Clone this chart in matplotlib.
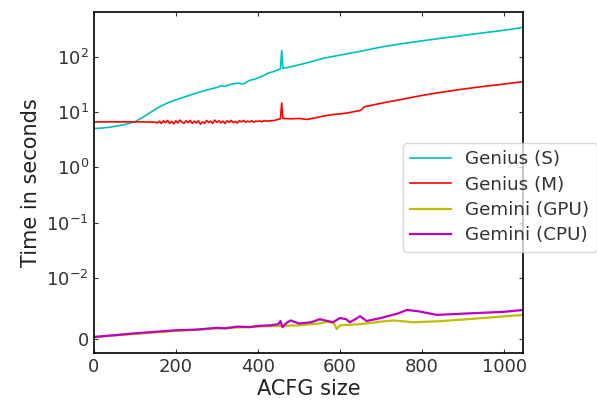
import numpy as np
import matplotlib
matplotlib.use('Agg')
import matplotlib.pyplot as plt
from matplotlib.ticker import NullLocator

# Tiempos medidos por tamano de ACFG
x_gs = [0, 20, 40, 60, 80, 100, 120, 140, 160, 180, 200, 230, 260, 290, 300, 310,
        320, 335, 350, 365, 380, 395, 410, 425, 440, 455, 458, 461, 480, 520, 560,
        600, 650, 700, 750, 800, 850, 900, 950, 1000, 1046]
y_gs = [5.0, 5.1, 5.3, 5.6, 6.0, 6.6, 8.0, 10.0, 12.3, 14.5, 16.5, 19.5, 23.0, 26.5,
        27.5, 29.5, 29.0, 31.5, 33.0, 32.0, 37.0, 39.5, 44.0, 50.0, 54.0, 60.0, 128.0,
        61.0, 65.0, 77.0, 93.0, 106.0, 124.0, 148.0, 170.0, 192.0, 215.0, 240.0,
        268.0, 298.0, 335.0]

x_gm = [0, 40, 80, 120, 150, 155, 160, 165, 170, 175, 180, 185, 190, 195, 200, 205,
        210, 215, 220, 225, 230, 235, 240, 245, 250, 255, 260, 265, 270, 275, 280,
        285, 290, 295, 300, 305, 310, 315, 320, 325, 330, 335, 340, 345, 350, 355,
        360, 365, 370, 375, 380, 385, 390, 395, 400, 405, 410, 415, 420, 440, 455,
        458, 461, 480, 500, 520, 540, 560, 580, 600, 620, 640, 650, 660, 680, 700,
        750, 800, 850, 900, 950, 1000, 1046]
y_gm = [6.6, 6.6, 6.6, 6.6, 6.5, 6.3, 6.8, 6.2, 6.9, 6.4, 7.0, 6.2, 6.7, 6.1, 6.9,
        6.3, 7.1, 6.5, 6.2, 6.9, 6.4, 7.0, 6.2, 6.8, 6.3, 6.9, 6.0, 6.6, 6.2, 7.0,
        6.4, 6.8, 6.2, 7.1, 6.5, 6.9, 6.3, 6.8, 6.2, 6.9, 6.5, 7.0, 6.4, 6.7, 6.3,
        6.9, 6.6, 7.0, 6.5, 6.8, 6.6, 6.9, 6.5, 6.8, 6.7, 6.9, 6.6, 7.0, 6.8, 7.0,
        7.5, 14.5, 7.6, 7.5, 7.6, 7.3, 7.8, 8.4, 8.9, 9.2, 9.6, 10.3, 10.6, 12.4,
        13.3, 14.3, 16.8, 19.8, 22.8, 25.8, 28.8, 31.8, 35.0]

x_gpu = [0, 100, 200, 300, 400, 450, 500, 550, 570, 585, 592, 600, 650, 700, 730,
         780, 850, 950, 1046]
y_gpu = [0.0004, 0.0009, 0.0014, 0.0018, 0.0021, 0.0022, 0.0023, 0.0026, 0.0029,
         0.0027, 0.0017, 0.0023, 0.0025, 0.0029, 0.0031, 0.0028, 0.0030, 0.0035,
         0.0040]

x_cpu = [0, 100, 200, 250, 300, 320, 350, 380, 400, 430, 450, 455, 460, 470, 480,
         500, 530, 551, 570, 583, 600, 615, 624, 640, 649, 665, 700, 740, 763, 790,
         836, 900, 1000, 1046]
y_cpu = [0.0004, 0.0010, 0.0015, 0.0016, 0.0019, 0.0018, 0.0021, 0.0020, 0.0022,
         0.0023, 0.0025, 0.0030, 0.0020, 0.0027, 0.0031, 0.0026, 0.0028, 0.0033,
         0.0030, 0.0028, 0.0035, 0.0033, 0.0028, 0.0034, 0.0038, 0.0030, 0.0035,
         0.0042, 0.0048, 0.0046, 0.0040, 0.0042, 0.0045, 0.0048]

series = [
    (x_gs, y_gs, 'c', 'Genius (S)', 1.2),
    (x_gm, y_gm, 'r', 'Genius (M)', 1.2),
    (x_gpu, y_gpu, 'y', 'Gemini (GPU)', 1.6),
    (x_cpu, y_cpu, 'm', 'Gemini (CPU)', 1.6),
]

ytick_vals = [0, 1e-2, 1e-1, 1, 10, 100]
ytick_labels = ['0', '$10^{-2}$', '$10^{-1}$', '$10^{0}$', '$10^{1}$', '$10^{2}$']
xtick_vals = [0, 200, 400, 600, 800, 1000]

fig = plt.figure(figsize=(5.97, 4.03), dpi=100)
ax = fig.add_axes([0.157, 0.124, 0.719, 0.846])

for xs, ys, col, lab, lw in series:
    ax.plot(xs, ys, color=col, label=lab, linewidth=lw)

ax.set_yscale('symlog', linthresh=0.01, linscale=1)
ax.set_ylim(-0.0022, 634)
ax.set_xlim(0, 1046)
ax.set_yticks(ytick_vals)
ax.set_yticklabels(ytick_labels)
ax.set_xticks(xtick_vals)
ax.yaxis.set_minor_locator(NullLocator())
ax.tick_params(direction='in', length=3, labelsize=13, colors='#333333',
               top=True, right=True)
for s in ax.spines.values():
    s.set_linewidth(1.2)

ax.set_xlabel('ACFG size', fontsize=15, color='#222222', labelpad=2)
ax.set_ylabel('Time in seconds', fontsize=15, color='#222222', labelpad=4)

leg = ax.legend(loc='upper left', bbox_to_anchor=(403 / 597, 1 - 143 / 403),
                bbox_transform=fig.transFigure, fontsize=13.2, borderaxespad=0,
                handlelength=2.2, labelspacing=0.4, framealpha=0.75)
for t in leg.get_texts():
    t.set_color('#333333')

plt.savefig('out.png', dpi=100)
